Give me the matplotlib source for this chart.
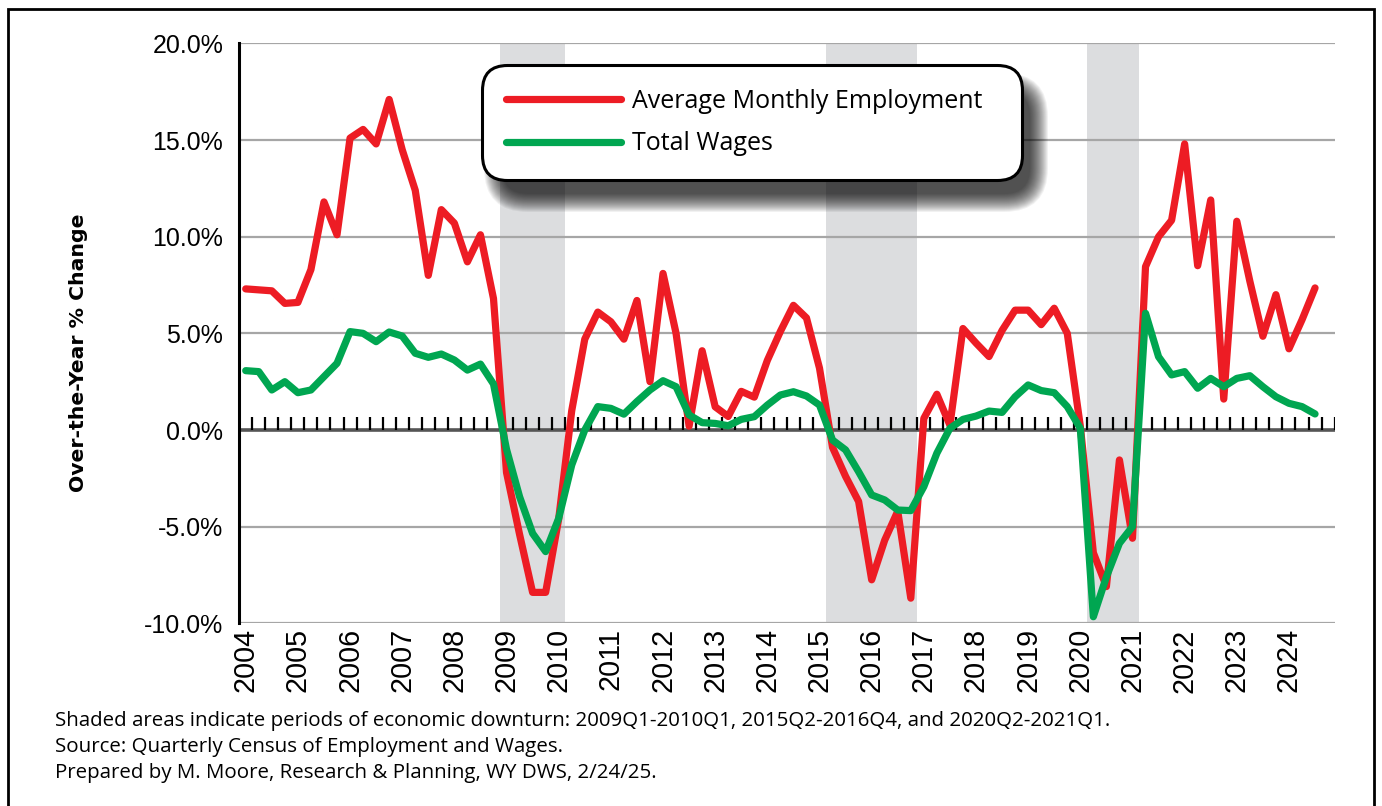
import numpy as np
import matplotlib
matplotlib.use("Agg")
import matplotlib.pyplot as plt
from matplotlib.patches import FancyBboxPatch, Rectangle
from matplotlib.transforms import IdentityTransform

# ---------------- data ----------------
years = list(range(2004, 2025))
quarters = [f"{y}Q{q}" for y in years for q in range(1, 5)][:83]   # 2004Q1 .. 2024Q3

employment = [
    7.3, 7.25, 7.2, 6.55, 6.6, 8.3, 11.8, 10.1,          # 2004-2005
    15.1, 15.55, 14.8, 17.1, 14.5, 12.4, 8.0, 11.4,      # 2006-2007
    10.7, 8.7, 10.1, 6.8, -2.2, -5.4, -8.4, -8.4,        # 2008-2009
    -4.6, 1.0, 4.7, 6.1, 5.6, 4.7, 6.7, 2.5,             # 2010-2011
    8.1, 5.0, 0.2, 4.1, 1.2, 0.7, 2.0, 1.7,              # 2012-2013
    3.6, 5.1, 6.45, 5.8, 3.2, -0.9, -2.4, -3.7,          # 2014-2015
    -7.75, -5.7, -4.2, -8.7, 0.6, 1.85, 0.25, 5.25,      # 2016-2017
    4.5, 3.8, 5.15, 6.2, 6.2, 5.45, 6.3, 5.0,            # 2018-2019
    0.2, -6.35, -8.1, -1.55, -5.6, 8.45, 10.0, 10.85,    # 2020-2021
    14.8, 8.5, 11.9, 1.6, 10.8, 7.7, 4.85, 7.0,          # 2022-2023
    4.2, 5.7, 7.35,                                      # 2024
]

wages = [
    3.07, 3.02, 2.07, 2.5, 1.93, 2.07, 2.76, 3.45,
    5.09, 5.0, 4.57, 5.07, 4.86, 3.97, 3.76, 3.93,
    3.62, 3.1, 3.41, 2.38, -1.0, -3.45, -5.35, -6.29,
    -4.57, -1.81, 0.0, 1.21, 1.12, 0.82, 1.47, 2.07,
    2.55, 2.24, 0.78, 0.38, 0.34, 0.22, 0.55, 0.69,
    1.29, 1.81, 1.98, 1.76, 1.29, -0.52, -1.03, -2.16,
    -3.36, -3.62, -4.14, -4.17, -2.93, -1.2, 0.09, 0.55,
    0.72, 0.98, 0.91, 1.72, 2.33, 2.04, 1.93, 1.21,
    0.09, -9.66, -7.6, -5.86, -5.0, 6.04, 3.79, 2.85,
    3.02, 2.16, 2.67, 2.24, 2.67, 2.81, 2.24, 1.72,
    1.38, 1.21, 0.83,
]

downturns = [("2009Q1", "2010Q1"), ("2015Q2", "2016Q4"), ("2020Q2", "2021Q1")]
y_ticks = [-10, -5, 0, 5, 10, 15, 20]
series_names = ["Average Monthly Employment", "Total Wages"]
y_label = "Over-the-Year % Change"
footnotes = [
    "Shaded areas indicate periods of economic downturn: 2009Q1-2010Q1, 2015Q2-2016Q4, and 2020Q2-2021Q1.",
    "Source: Quarterly Census of Employment and Wages.",
    "Prepared by M. Moore, Research & Planning, WY DWS, 2/24/25.",
]

# ---------------- style ----------------
RED = "#ED1C24"
GREEN = "#00A651"
SHADE = "#DCDDDF"
GRID = "#A6A6A6"
W, H = 1382, 806

fig = plt.figure(figsize=(W / 100, H / 100), dpi=100)
renderer = fig.canvas.get_renderer()


def fit_size(s, target_px, **kw):
    t = fig.text(0, 0, s, fontsize=20, **kw)
    w = t.get_window_extent(renderer=renderer).width
    t.remove()
    return 20 * target_px / w


ax_left, ax_right, ax_top, ax_bottom = 239.2, 1334.6, 43.4, 623.3
ax = fig.add_axes([ax_left / W, 1 - ax_bottom / H, (ax_right - ax_left) / W, (ax_bottom - ax_top) / H])

n_slots = len(years) * 4
x = np.arange(len(quarters))
ax.set_xlim(-0.5, n_slots - 0.5)
ax.set_ylim(y_ticks[0], y_ticks[-1])

# downturn shading
for s, e in downturns:
    ax.axvspan(quarters.index(s) - 0.5, quarters.index(e) + 0.5, color=SHADE, lw=0, zorder=0)

# grid
ax.set_yticks(y_ticks)
ax.yaxis.grid(True, color=GRID, lw=1.6, zorder=0.5)
ax.set_axisbelow(True)

# zero line with quarter tick marks
ax.axhline(0, color="#555555", lw=2.6, zorder=2)
ax.vlines(np.arange(n_slots + 1) - 0.5, 0, 0.68, colors="black", lw=1.6, zorder=2)

# series
ax.plot(x, employment, color=RED, lw=5.2, solid_joinstyle="round", solid_capstyle="round",
        zorder=3, label=series_names[0])
ax.plot(x, wages, color=GREEN, lw=5.2, solid_joinstyle="round", solid_capstyle="round",
        zorder=3.5, label=series_names[1])

# spines
for sp in ["top", "right", "bottom"]:
    ax.spines[sp].set_visible(False)
ax.spines["left"].set_color("black")
ax.spines["left"].set_linewidth(2.2)

# y tick labels
ytick_fs = fit_size("20.0%", 71, family="Liberation Sans")
ax.set_yticklabels([f"{v:.1f}%" for v in y_ticks], fontsize=ytick_fs, family="Liberation Sans")
ax.tick_params(axis="y", length=0, pad=11.5)

# x tick labels (years, at Q1)
year_pos = [quarters.index(f"{y}Q1") for y in years]
xtick_fs = fit_size("2004", 64, family="Liberation Sans")
ax.set_xticks(year_pos)
ax.set_xticklabels([str(y) for y in years], rotation=90, fontsize=xtick_fs, family="Liberation Sans")
ax.tick_params(axis="x", length=0, pad=3.5)

# y label
ylab_fs = fit_size(y_label, 278, family="DejaVu Sans", weight="heavy")
ax.set_ylabel(y_label, fontsize=ylab_fs, family="DejaVu Sans", weight="heavy")
ax.yaxis.set_label_coords((88 - ax_left) / (ax_right - ax_left), (ax_bottom - 353) / (ax_bottom - ax_top))

# legend
leg_fs = fit_size(series_names[0], 350, family="Open Sans")
leg = ax.legend(loc="upper left", bbox_to_anchor=(482 / W, 1 - 65 / H, 540 / W, 0),
                bbox_transform=fig.transFigure, mode="expand", borderaxespad=0,
                prop={"family": "Open Sans", "size": leg_fs},
                handlelength=115 / (leg_fs * 100 / 72), handletextpad=0.45,
                labelspacing=0.70, borderpad=0.95, frameon=True, fancybox=True,
                framealpha=1, edgecolor="black", facecolor="white")
leg.get_frame().set_linewidth(2.2)
leg.get_frame().set_boxstyle("round,pad=0,rounding_size=1.0")
leg.set_zorder(10)

# footnotes
foot_fs = fit_size(footnotes[0], 1052, family="Open Sans")
for k, line in enumerate(footnotes):
    fig.text(55 / W, 1 - (721 + 26 * k) / H, line, fontsize=foot_fs, family="Open Sans",
             ha="left", va="center")

# figure border
fig.add_artist(Rectangle((8, -20), 1366, 797 + 20, transform=IdentityTransform(),
                         fill=False, edgecolor="black", lw=2))

# blurred legend shadow
fig.canvas.draw()
bb = leg.get_frame().get_window_extent(renderer=fig.canvas.get_renderer())
ox, oy = 14, -20
for r in range(18, -1, -1):
    p = FancyBboxPatch((bb.x0 + ox - r + 6, bb.y0 + oy - r + 6),
                       bb.width + 2 * r - 12, bb.height + 2 * r - 12,
                       boxstyle=f"round,pad=0,rounding_size={26 + r}",
                       transform=IdentityTransform(), facecolor="black", edgecolor="none",
                       alpha=0.055, zorder=9, clip_on=False)
    ax.add_patch(p)

fig.savefig("out.png", dpi=100)
